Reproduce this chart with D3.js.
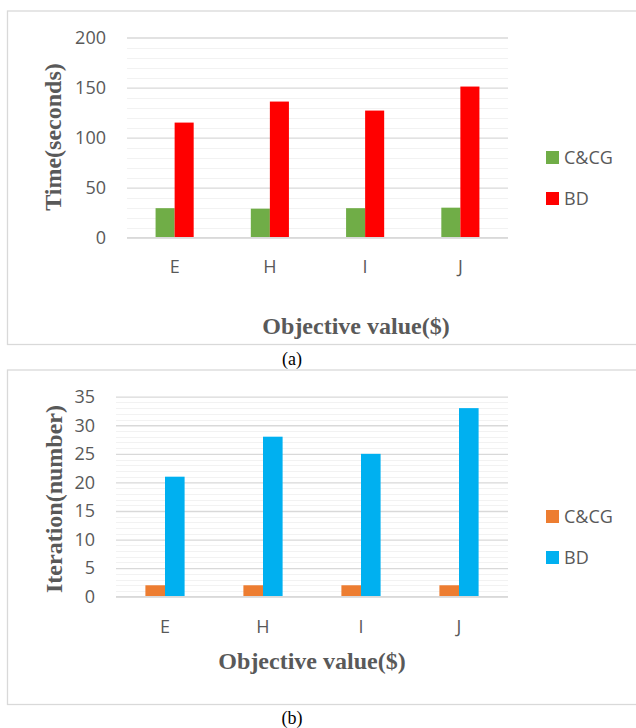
<!DOCTYPE html>
<html><head><meta charset="utf-8">
<script src="https://cdn.jsdelivr.net/npm/d3@7"></script>
<style>
html,body{margin:0;padding:0;background:#fff;overflow:hidden}
svg{display:block}
</style></head>
<body>
<svg id="c" width="636" height="728"></svg>
<script>
const categories = ["E","H","I","J"];
const seriesNames = ["C&CG","BD"];
const timeCCG = [29.5, 29, 29.5, 30];
const timeBD = [115, 136, 127, 151];
const iterCCG = [2, 2, 2, 2];
const iterBD = [21, 28, 25, 33];
const timeTicks = [0, 50, 100, 150, 200];
const iterTicks = [0, 5, 10, 15, 20, 25, 30, 35];

const svg = d3.select("#c");
const grey = "#595959";
const tickFont = "'Open Sans', sans-serif";
const titleFont = "'Liberation Serif', 'Times New Roman', serif";

function drawChart(cfg) {
  const g = svg.append("g");
  // outer box
  g.append("rect").attr("x", 7.5).attr("y", cfg.boxTop + 0.5)
    .attr("width", 640).attr("height", cfg.boxBottom - cfg.boxTop)
    .attr("fill", "none").attr("stroke", "#D9D9D9").attr("stroke-width", 1.3);

  const x = d3.scaleBand().domain(categories).range([cfg.x0, cfg.x1]).padding(0);
  const xs = d3.scaleBand().domain(seriesNames).range([0, x.bandwidth()])
    .paddingInner(0).paddingOuter(1.5);
  const y = d3.scaleLinear().domain([0, cfg.max]).range([cfg.yBottom, cfg.yTop]);

  // minor gridlines
  const minor = d3.range(0, cfg.max + 0.001, cfg.minor).filter(v => !cfg.ticks.includes(v));
  g.append("g").selectAll("line").data(minor).join("line")
    .attr("x1", cfg.x0).attr("x2", cfg.x1)
    .attr("y1", d => Math.round(y(d)) + 0.5).attr("y2", d => Math.round(y(d)) + 0.5)
    .attr("stroke", "#F2F2F2").attr("stroke-width", 1);

  // major gridlines + tick labels via axis
  const ax = g.append("g").attr("transform", `translate(${cfg.x0},0)`)
    .call(d3.axisLeft(y).tickValues(cfg.ticks).tickSize(-(cfg.x1 - cfg.x0)).tickPadding(21).tickFormat(d3.format("d")));
  ax.select(".domain").remove();
  ax.selectAll(".tick line").attr("stroke", "#D9D9D9").attr("stroke-width", 1.3);
  ax.selectAll(".tick text").attr("fill", grey).attr("font-family", tickFont).attr("font-size", 18);

  // bars
  const data = categories.map((c, i) => ({ c, vals: [cfg.s1[i], cfg.s2[i]] }));
  const grp = g.append("g").selectAll("g").data(data).join("g")
    .attr("transform", d => `translate(${x(d.c)},0)`);
  grp.selectAll("rect").data(d => d.vals.map((v, k) => ({ v, s: seriesNames[k] })))
    .join("rect")
    .attr("x", d => xs(d.s)).attr("width", xs.bandwidth())
    .attr("y", d => y(d.v)).attr("height", d => y(0) - y(d.v))
    .attr("fill", d => d.s === "BD" ? cfg.c2 : cfg.c1);

  // baseline redraw
  g.append("line").attr("x1", cfg.x0).attr("x2", cfg.x1)
    .attr("y1", y(0)).attr("y2", y(0)).attr("stroke", "#D9D9D9").attr("stroke-width", 1.5);

  // x labels
  const xa = g.append("g").attr("transform", `translate(0,${cfg.xLabelY})`)
    .call(d3.axisBottom(x).tickSize(0).tickPadding(0));
  xa.select(".domain").remove();
  xa.selectAll(".tick text").attr("fill", grey).attr("font-family", tickFont)
    .attr("font-size", 18).attr("dy", "0.35em");

  // axis titles
  g.append("text").attr("x", cfg.xTitleX).attr("y", cfg.xTitleY)
    .attr("text-anchor", "middle").attr("dy", "0.35em")
    .attr("font-family", titleFont).attr("font-weight", "bold").attr("font-size", 24)
    .attr("fill", grey).text("Objective value($)");
  g.append("text").attr("transform", `translate(${cfg.yTitleX},${cfg.yTitleY}) rotate(-90)`)
    .attr("text-anchor", "middle").attr("dy", "0.35em")
    .attr("font-family", titleFont).attr("font-weight", "bold").attr("font-size", 24)
    .attr("fill", grey).text(cfg.yTitle);

  // legend
  const lg = g.append("g").selectAll("g").data(seriesNames).join("g")
    .attr("transform", (d, i) => `translate(546,${cfg.legendY[i]})`);
  lg.append("rect").attr("x", 0).attr("y", 0).attr("width", 13).attr("height", 13)
    .attr("fill", (d, i) => i === 0 ? cfg.c1 : cfg.c2);
  lg.append("text").attr("x", 18).attr("y", 6.5).attr("dy", "0.36em")
    .attr("font-family", tickFont).attr("font-size", 18).attr("fill", grey).text(d => d);

  // caption
  svg.append("text").attr("x", cfg.capX).attr("y", cfg.capY).attr("text-anchor", "middle")
    .attr("dy", "0.35em").attr("font-family", titleFont).attr("font-size", 18)
    .attr("fill", "#000").text(cfg.caption);
}

drawChart({
  boxTop: 10.5, boxBottom: 344,
  x0: 127, x1: 508, yTop: 37.5, yBottom: 237.7, max: 200, minor: 10, ticks: timeTicks,
  s1: timeCCG, s2: timeBD, c1: "#70AD47", c2: "#FF0000",
  xLabelY: 267, xTitleX: 356, xTitleY: 326, yTitleX: 53, yTitleY: 137,
  yTitle: "Time(seconds)", legendY: [151, 192], caption: "(a)", capX: 292, capY: 358.5
});
drawChart({
  boxTop: 369.5, boxBottom: 704,
  x0: 116, x1: 508, yTop: 396.7, yBottom: 596.7, max: 35, minor: 1, ticks: iterTicks,
  s1: iterCCG, s2: iterBD, c1: "#ED7D31", c2: "#00B0F0",
  xLabelY: 626.7, xTitleX: 312, xTitleY: 660.7, yTitleX: 54, yTitleY: 499,
  yTitle: "Iteration(number)", legendY: [510, 551], caption: "(b)", capX: 292, capY: 717.5
});
</script>
</body></html>
